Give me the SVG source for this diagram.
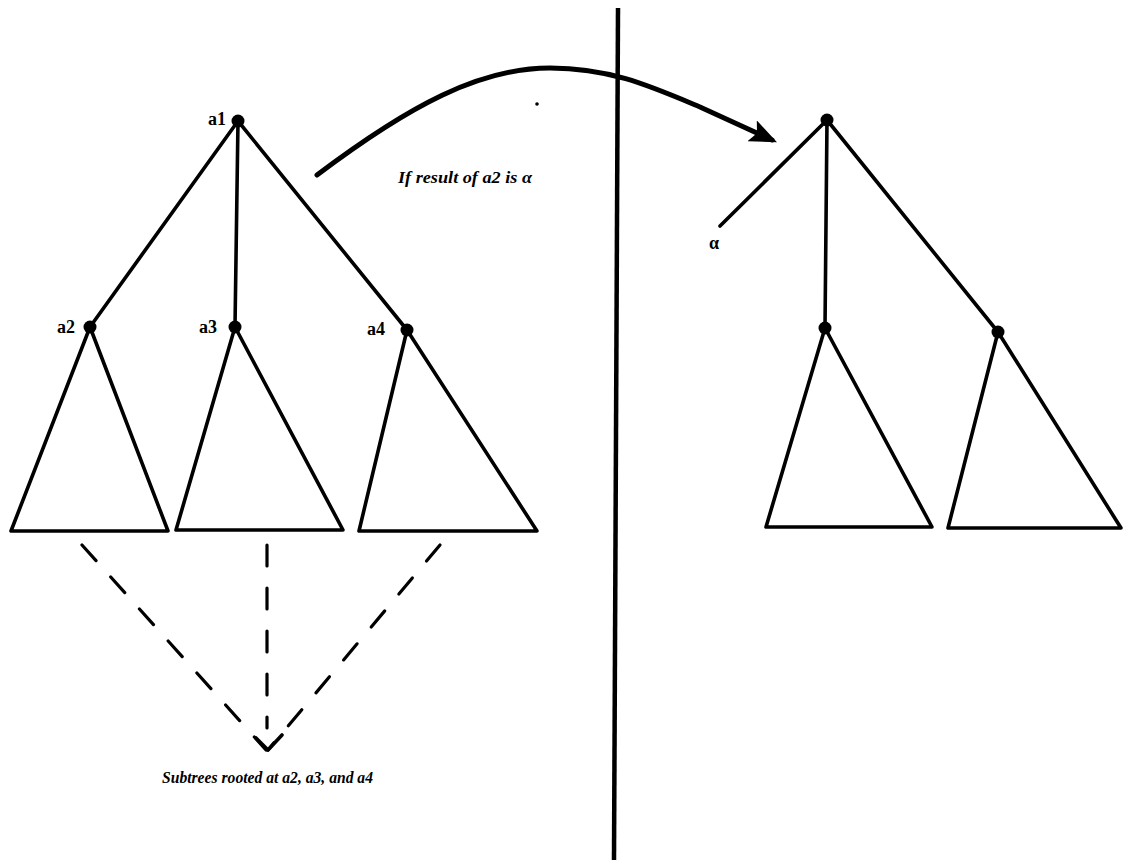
<svg xmlns="http://www.w3.org/2000/svg" width="1126" height="863" viewBox="0 0 1126 863">
<defs>
<style>
.ln{stroke:#000;stroke-width:3.6;fill:none;stroke-linecap:round;stroke-linejoin:round}
.curve{stroke:#000;stroke-width:5;fill:none;stroke-linecap:round;stroke-linejoin:round}
.tri{stroke:#000;stroke-width:3.6;fill:none;stroke-linejoin:round}
.dash{stroke:#000;stroke-width:3.2;fill:none;stroke-dasharray:21 22;stroke-linecap:round}
.dot{fill:#000}
.lbl{font-family:"Liberation Serif","Times New Roman",serif;font-weight:bold;font-size:18px;fill:#000}
.cap{font-family:"Liberation Serif","Times New Roman",serif;font-weight:bold;font-style:italic;font-size:17px;fill:#000}
</style>
<marker id="ah" viewBox="0 0 10 10" refX="8" refY="5" markerWidth="5.5" markerHeight="4.6" markerUnits="strokeWidth" orient="auto" preserveAspectRatio="none">
<path d="M0,0 L10,5 L0,10 L2,5 Z" fill="#000"/>
</marker>
</defs>
<rect width="1126" height="863" fill="#fff"/>

<g id="connectors">
<line class="ln" x1="238" y1="121" x2="90" y2="327"/>
<line class="ln" x1="238" y1="121" x2="235" y2="327"/>
<line class="ln" x1="238" y1="121" x2="407" y2="330"/>
<line class="ln" x1="827" y1="120" x2="720" y2="226"/>
<line class="ln" x1="827" y1="120" x2="825" y2="328"/>
<line class="ln" x1="827" y1="120" x2="998" y2="332"/>
<path class="curve" d="M317,175 C410,105 480,68 550,68 C610,68 650,86 700,107 L772,140" marker-end="url(#ah)"/>
<line class="dash" x1="82" y1="545" x2="266" y2="750"/>
<line class="dash" x1="440" y1="545" x2="268" y2="750"/>
<line class="dash" x1="267" y1="545" x2="267" y2="728"/>
<polyline class="ln" points="256,738 268,750 282,735"/>
<line x1="618" y1="8" x2="614" y2="860" stroke="#000" stroke-width="4.5"/>
</g>

<g id="node-a1">
<circle class="dot" cx="238" cy="121" r="6.5"/>
<text class="lbl" x="208" y="125">a1</text>
</g>
<g id="node-a2">
<polygon class="tri" points="90,327 11,531 168,531"/>
<circle class="dot" cx="90" cy="327" r="6.5"/>
<text class="lbl" x="57" y="333">a2</text>
</g>
<g id="node-a3">
<polygon class="tri" points="235,327 176,530 343,530"/>
<circle class="dot" cx="235" cy="327" r="6.5"/>
<text class="lbl" x="199" y="333">a3</text>
</g>
<g id="node-a4">
<polygon class="tri" points="407,330 359,531 537,531"/>
<circle class="dot" cx="407" cy="330" r="6.5"/>
<text class="lbl" x="367" y="335">a4</text>
</g>

<g id="node-r-root">
<circle class="dot" cx="827" cy="120" r="6.5"/>
</g>
<g id="node-alpha">
<text class="lbl" x="709" y="249">α</text>
</g>
<g id="node-r-left">
<polygon class="tri" points="825,328 766,527 932,527"/>
<circle class="dot" cx="825" cy="328" r="6.5"/>
</g>
<g id="node-r-right">
<polygon class="tri" points="998,332 948,528 1121,528"/>
<circle class="dot" cx="998" cy="332" r="6.5"/>
</g>

<g id="labels">
<text class="cap" x="398" y="183" textLength="134" lengthAdjust="spacingAndGlyphs">If result of a2 is α</text>
<text class="cap" x="162" y="783" textLength="211" lengthAdjust="spacingAndGlyphs">Subtrees rooted at a2, a3, and a4</text>
<circle class="dot" cx="537" cy="104" r="1.8"/>
</g>
</svg>
